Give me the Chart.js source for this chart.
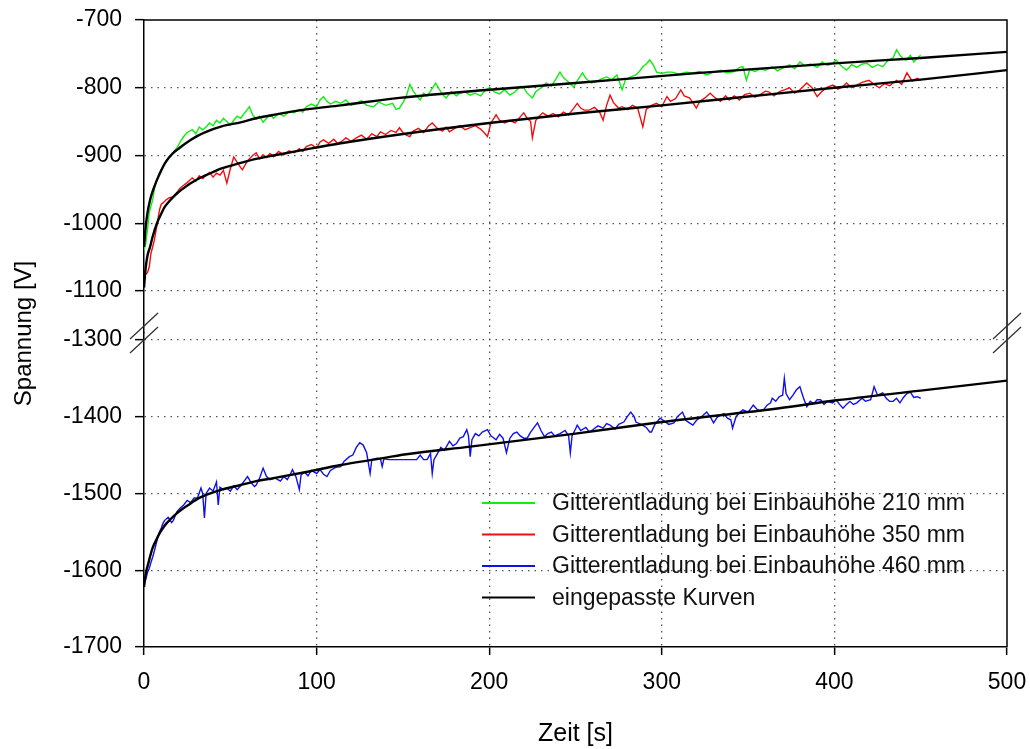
<!DOCTYPE html>
<html><head><meta charset="utf-8">
<script src="https://cdn.jsdelivr.net/npm/chart.js@4.4.1/dist/chart.umd.min.js"></script>
<style>html,body{margin:0;padding:0;background:#fff}</style>
</head><body>
<canvas id="c" width="1030" height="749"></canvas>
<script>
// ---------- text ----------
const xTitle = 'Zeit [s]';
const yTitle = 'Spannung [V]';
const seriesLabels = ['Gitterentladung bei Einbauhöhe 210 mm','Gitterentladung bei Einbauhöhe 350 mm','Gitterentladung bei Einbauhöhe 460 mm'];
const fitLabel = 'eingepasste Kurven';
// ---------- ticks ----------
const xTicks = [0,100,200,300,400,500];
const yTopTicks = [-700,-800,-900,-1000,-1100];
const yBotTicks = [-1300,-1400,-1500,-1600,-1700];
// ---------- measured series ----------
const t210 = [0,1,2,3,4,5,6,7,8,9,10,12,14,15,17,19,21,23,25,28,30,32,34,36,38,40,42,44,46,48,50,52,54,56,58,60,61,63,65,67,69,71,73,75,78,81,84,87,90,92,94,97,100,102,104,106,108,111,114,117,120,123,126,129,133,136,140,144,146,148,150,152,154,156,158,160,162,164,166,169,171,173,175,178,181,183,186,189,192,195,198,200,203,206,209,212,215,218,220,222,225,227,230,233,236,238,241,243,246,249,251,254,256,259,262,265,268,271,274,277,279,282,285,287,289,291,293,295,297,300,303,306,310,314,318,322,326,330,334,338,342,345,347,349,351,354,357,360,364,367,370,374,377,380,383,386,390,393,396,399,401,404,407,410,413,416,419,422,425,428,431,434,436,438,440,442,444,446,448,450];
const v210 = [-1040,-1030,-1010,-985,-975,-966,-950,-940,-932,-925,-921,-912,-905,-902,-895,-889,-880,-872,-866,-862,-868,-858,-862,-858,-852,-856,-848,-852,-845,-850,-855,-848,-842,-845,-838,-832,-828,-840,-846,-842,-851,-845,-840,-845,-838,-842,-835,-837,-832,-836,-828,-824,-828,-818,-813,-820,-824,-820,-823,-818,-826,-823,-819,-826,-828,-821,-826,-823,-832,-830,-822,-812,-795,-805,-812,-818,-808,-812,-805,-793,-802,-810,-815,-806,-812,-808,-806,-811,-808,-812,-803,-800,-806,-809,-803,-811,-806,-798,-800,-808,-815,-806,-800,-793,-798,-790,-777,-785,-792,-799,-790,-778,-786,-793,-791,-787,-784,-788,-781,-803,-788,-784,-781,-776,-769,-765,-759,-766,-777,-779,-777,-777,-780,-777,-778,-776,-781,-777,-774,-778,-776,-770,-769,-789,-773,-776,-772,-774,-769,-775,-771,-766,-772,-762,-768,-765,-770,-762,-767,-764,-759,-768,-774,-766,-770,-765,-764,-770,-766,-769,-760,-756,-744,-752,-758,-759,-752,-762,-756,-752];
const t350 = [0,1,2,3,4,5,6,7,8,9,10,11,13,15,17,19,21,23,25,28,30,32,34,36,38,40,42,44,46,48,50,52,54,56,57,59,61,63,65,67,69,71,73,75,78,81,84,87,90,92,94,97,100,102,104,107,110,112,114,117,120,123,126,129,132,135,137,140,143,146,148,150,152,154,156,159,162,165,167,170,173,175,177,180,183,186,189,192,195,197,199,201,204,206,209,212,215,218,220,222,224,225,227,229,231,234,237,240,243,246,249,251,253,255,258,261,264,266,268,270,272,275,277,280,283,286,289,291,294,297,300,303,305,308,311,313,316,318,320,322,325,328,331,334,337,339,342,345,348,351,354,357,360,362,365,368,371,374,377,380,384,387,390,393,396,399,402,405,407,410,413,416,420,423,426,429,432,436,439,442,445,448,450];
const v350 = [-1070,-1075,-1073,-1065,-1045,-1035,-1025,-1010,-995,-980,-972,-970,-965,-962,-961,-955,-948,-944,-940,-933,-938,-930,-934,-929,-925,-932,-926,-929,-922,-941,-920,-902,-910,-918,-921,-912,-905,-900,-896,-905,-899,-903,-897,-902,-894,-899,-893,-896,-890,-894,-887,-884,-889,-880,-877,-882,-876,-882,-880,-874,-879,-874,-870,-876,-868,-872,-865,-869,-863,-866,-859,-866,-870,-872,-864,-860,-866,-856,-852,-860,-864,-858,-865,-860,-856,-862,-859,-856,-861,-866,-872,-852,-840,-848,-852,-848,-852,-843,-837,-845,-850,-874,-848,-842,-837,-842,-838,-843,-836,-840,-830,-823,-830,-833,-833,-829,-836,-848,-826,-811,-822,-830,-828,-832,-826,-830,-858,-832,-826,-823,-828,-813,-820,-816,-803,-812,-815,-822,-830,-820,-815,-808,-815,-820,-812,-818,-812,-818,-810,-808,-814,-810,-805,-806,-812,-806,-803,-800,-808,-803,-793,-800,-813,-805,-799,-796,-802,-798,-793,-800,-796,-792,-789,-795,-800,-794,-797,-789,-795,-778,-790,-786,-789];
const t460 = [0,1,2,3,4,5,6,7,8,9,10,11,12,14,16,17,19,21,23,25,27,29,31,33,34,35,36,38,40,42,43,44,46,48,50,52,54,56,58,60,62,64,65,67,69,71,73,76,79,81,83,85,86,88,90,91,93,95,97,100,102,104,106,108,111,114,116,119,121,123,125,127,129,131,132,135,137,138,139,142,146,150,154,158,160,162,164,166,167,168,170,172,174,177,179,181,183,185,187,188,189,190,192,194,196,199,201,204,206,208,210,212,214,216,218,220,222,224,226,228,230,232,234,236,238,241,244,246,247,248,250,251,253,256,258,260,263,266,268,270,273,275,278,280,282,284,285,288,291,293,294,296,299,301,304,307,309,312,314,316,318,320,323,326,328,330,332,334,336,338,340,341,343,345,347,350,353,355,357,359,361,363,364,366,368,370,371,372,374,376,378,380,382,384,386,388,390,392,394,396,399,401,403,405,407,409,411,413,416,418,421,423,425,428,430,432,434,436,438,440,442,444,446,448,450];
const v460 = [-1617,-1612,-1603,-1598,-1590,-1583,-1575,-1566,-1557,-1550,-1545,-1539,-1535,-1531,-1538,-1535,-1524,-1519,-1515,-1509,-1512,-1506,-1506,-1493,-1500,-1532,-1500,-1493,-1497,-1485,-1515,-1492,-1495,-1493,-1497,-1490,-1495,-1490,-1484,-1478,-1486,-1491,-1489,-1480,-1467,-1478,-1482,-1480,-1484,-1478,-1482,-1474,-1469,-1478,-1495,-1476,-1472,-1477,-1470,-1474,-1469,-1475,-1478,-1470,-1466,-1465,-1458,-1452,-1450,-1440,-1434,-1437,-1447,-1474,-1456,-1454,-1455,-1465,-1455,-1456,-1456,-1456,-1456,-1456,-1450,-1456,-1456,-1448,-1474,-1456,-1448,-1440,-1444,-1432,-1438,-1435,-1428,-1426,-1417,-1425,-1452,-1430,-1422,-1425,-1420,-1417,-1425,-1430,-1423,-1428,-1447,-1428,-1422,-1420,-1425,-1428,-1428,-1420,-1414,-1408,-1418,-1426,-1422,-1420,-1425,-1422,-1418,-1425,-1447,-1425,-1416,-1411,-1418,-1414,-1420,-1417,-1412,-1415,-1409,-1411,-1416,-1410,-1407,-1400,-1394,-1400,-1407,-1410,-1414,-1420,-1420,-1410,-1402,-1405,-1410,-1408,-1400,-1394,-1405,-1408,-1411,-1405,-1400,-1394,-1400,-1408,-1401,-1398,-1396,-1402,-1404,-1415,-1400,-1395,-1391,-1394,-1385,-1390,-1393,-1391,-1385,-1382,-1376,-1380,-1374,-1372,-1350,-1370,-1378,-1372,-1365,-1361,-1375,-1387,-1380,-1383,-1378,-1378,-1384,-1380,-1382,-1378,-1384,-1389,-1384,-1380,-1384,-1382,-1376,-1380,-1378,-1361,-1372,-1369,-1376,-1380,-1380,-1376,-1382,-1375,-1370,-1368,-1375,-1374,-1376];
// ---------- fitted curves ----------
const tFit210 = [0,1,2,3.5,5,7.5,10,12,14.5,17,19.5,22,27,31,36,45,56,65,75,94,114,148,200,250,322,400,450,500];
const vFit210 = [-1035,-1005,-985,-966,-953,-936,-922,-912,-903,-896,-891,-886,-877,-871,-865,-857,-851,-845,-840,-832,-826,-815,-803,-793,-778,-764,-756,-747];
const tFit350 = [0,1,2,3.5,5,7.5,10,12,14.5,17,19.5,22,27,31,36,45,56,65,75,94,114,148,200,250,300,350,400,450,500];
const vFit350 = [-1095,-1065,-1048,-1035,-1020,-1000,-986,-976,-968,-961,-955,-950,-941,-935,-929,-919,-911,-905,-900,-891,-882,-869,-852,-838,-826,-813,-800,-788,-774];
const tFit460 = [0,1,2.5,5,7,9,11,13,16,19,23,27,31,36,45,56,65,75,94,114,133,152,189,250,300,368,400,450,500];
const vFit460 = [-1622,-1605,-1591,-1571,-1561,-1552,-1545,-1539,-1532,-1526,-1519,-1513,-1507,-1502,-1495,-1489,-1484,-1480,-1472,-1463,-1456,-1449,-1439,-1422,-1407,-1389,-1379,-1366,-1353];

const colors = ['#10ee10','#ee1010','#1010ee'];
const fitColor = '#000000';
const FONT = "'Liberation Sans', Arial, sans-serif";

const pts = (ts, vs) => ts.map((t, i) => ({x: t, y: vs[i]}));

const dataSet = (label, ts, vs, color, axis) => ({
  label, data: pts(ts, vs), yAxisID: axis, borderColor: color, backgroundColor: color,
  borderWidth: 1.4, pointRadius: 0, tension: 0, order: 2, fill: false
});
const fitSet = (ts, vs, axis) => ({
  label: fitLabel, data: pts(ts, vs), yAxisID: axis, borderColor: fitColor, backgroundColor: fitColor,
  borderWidth: 2.4, pointRadius: 0, cubicInterpolationMode: 'monotone', order: 1, fill: false
});

const gridColor = (hide) => (ctx) => (ctx.tick && hide.includes(ctx.tick.value)) ? 'rgba(0,0,0,0)' : '#555';
const plainLabel = (v) => String(v);
const noPad = (s) => { s.paddingTop = 0; s.paddingBottom = 0; s.paddingLeft = 0; s.paddingRight = 0; };

const frameAndBreak = {
  id: 'frameAndBreak',
  afterDraw(chart) {
    const {ctx, chartArea: a} = chart;
    const b = chart.scales.yTop.bottom;
    ctx.save();
    ctx.strokeStyle = '#000';
    ctx.lineWidth = 1.5;
    ctx.beginPath();
    ctx.moveTo(a.left, a.top); ctx.lineTo(a.right, a.top); ctx.lineTo(a.right, a.bottom);
    ctx.stroke();
    ctx.strokeStyle = '#333';
    ctx.lineWidth = 1.3;
    [a.left, a.right].forEach(x => {
      [-7, 7].forEach(d => {
        ctx.beginPath();
        ctx.moveTo(x - 14, b + d + 13);
        ctx.lineTo(x + 14, b + d - 13);
        ctx.stroke();
      });
    });
    // y title
    ctx.fillStyle = '#000';
    ctx.font = '24px ' + FONT;
    ctx.textAlign = 'center';
    ctx.textBaseline = 'middle';
    ctx.translate(24, (a.top + a.bottom) / 2);
    ctx.rotate(-Math.PI / 2);
    ctx.fillText(yTitle, 0, 0);
    ctx.restore();
    // legend
    ctx.save();
    const entries = seriesLabels.map((l, i) => ({label: l, color: colors[i]})).concat([{label: fitLabel, color: fitColor}]);
    const lx = a.right - 525, ly = a.bottom - 144, rowH = 31.5;
    ctx.font = '23px ' + FONT;
    ctx.textAlign = 'left';
    ctx.textBaseline = 'middle';
    entries.forEach((e, i) => {
      const y = ly + i * rowH;
      ctx.strokeStyle = e.color;
      ctx.lineWidth = 2;
      ctx.beginPath(); ctx.moveTo(lx, y); ctx.lineTo(lx + 53, y); ctx.stroke();
      ctx.fillStyle = '#111';
      ctx.fillText(e.label, lx + 70, y + 1);
    });
    ctx.restore();
  }
};

new Chart(document.getElementById('c'), {
  type: 'line',
  data: {
    datasets: [
      dataSet(seriesLabels[0], t210, v210, colors[0], 'yTop'),
      dataSet(seriesLabels[1], t350, v350, colors[1], 'yTop'),
      dataSet(seriesLabels[2], t460, v460, colors[2], 'yBot'),
      fitSet(tFit210, vFit210, 'yTop'),
      fitSet(tFit350, vFit350, 'yTop'),
      fitSet(tFit460, vFit460, 'yBot')
    ]
  },
  options: {
    responsive: false,
    animation: false,
    devicePixelRatio: 1,
    layout: {padding: {top: 20, right: 23, left: 0, bottom: 0}},
    plugins: {legend: {display: false}, tooltip: {enabled: false}, title: {display: false}},
    scales: {
      x: {
        type: 'linear', position: 'bottom', min: 0, max: 500,
        afterBuildTicks: (s) => { s.ticks = xTicks.map(v => ({value: v})); },
        afterFit: (s) => { s.height = 102; noPad(s); },
        grid: {color: gridColor([0, 500]), lineWidth: 1.3, tickColor: '#000', tickWidth: 1.5, tickLength: 8, tickBorderDash: []},
        border: {display: true, color: '#000', width: 1.5, dash: [1.5, 5]},
        ticks: {color: '#000', font: {family: FONT, size: 23}, padding: 14, maxRotation: 0, autoSkip: false, callback: plainLabel},
        title: {display: true, text: xTitle, color: '#000', font: {family: FONT, size: 25}, padding: {top: 14, bottom: 0}}
      },
      yBot: {
        type: 'linear', position: 'left', stack: 'v', stackWeight: 314, min: -1700, max: -1291,
        afterBuildTicks: (s) => { s.ticks = yBotTicks.map(v => ({value: v})); },
        afterFit: (s) => { s.width = 144; noPad(s); },
        grid: {color: gridColor([-1700]), lineWidth: 1.3, tickColor: '#000', tickWidth: 1.5, tickLength: 9, tickBorderDash: []},
        border: {display: true, color: '#000', width: 1.5, dash: [1.5, 5]},
        ticks: {color: '#000', font: {family: FONT, size: 23}, padding: 13, autoSkip: false, callback: plainLabel}
      },
      yTop: {
        type: 'linear', position: 'left', stack: 'v', stackWeight: 313, min: -1162, max: -700,
        afterBuildTicks: (s) => { s.ticks = yTopTicks.map(v => ({value: v})); },
        afterFit: (s) => { s.width = 144; noPad(s); },
        grid: {color: gridColor([-700]), lineWidth: 1.3, tickColor: '#000', tickWidth: 1.5, tickLength: 9, tickBorderDash: []},
        border: {display: true, color: '#000', width: 1.5, dash: [1.5, 5]},
        ticks: {color: '#000', font: {family: FONT, size: 23}, padding: 13, autoSkip: false, callback: plainLabel}
      }
    }
  },
  plugins: [frameAndBreak]
});
</script>
</body></html>
